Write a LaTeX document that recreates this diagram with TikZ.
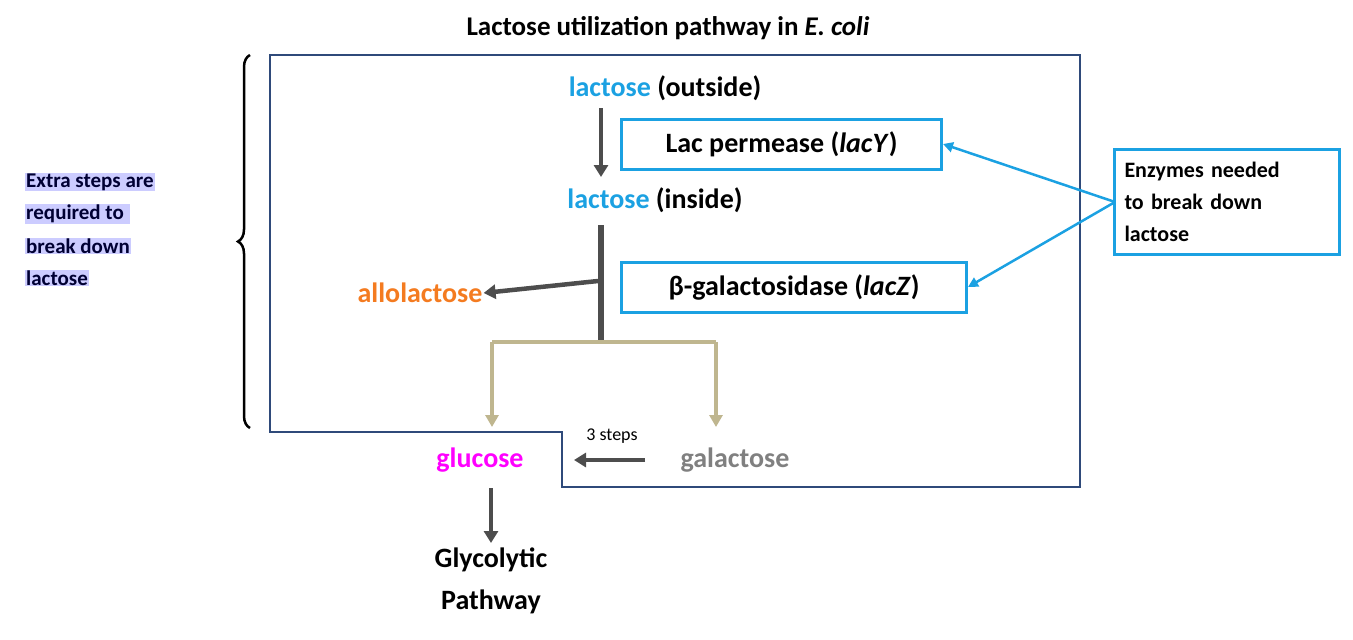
\documentclass[tikz,border=0pt]{standalone}
\usepackage{fontspec}
\setmainfont{Carlito}
\usetikzlibrary{arrows.meta,decorations.pathreplacing}
\definecolor{lblue}{HTML}{1BA1E2}
\definecolor{dgray}{HTML}{4D4D4D}
\definecolor{khaki}{HTML}{BFB68F}
\definecolor{frame}{HTML}{2F4A7A}
\definecolor{lav}{HTML}{CCCCFF}
\definecolor{orng}{HTML}{F47B20}
\definecolor{mag}{HTML}{FF00FF}
\begin{document}
\begin{tikzpicture}[x=1pt,y=-1pt,
  big/.style={font=\fontsize{28}{32}\selectfont\bfseries,inner sep=1pt},
  encl/.style={draw=lblue,line width=3pt,font=\fontsize{28}{32}\selectfont\bfseries,minimum height=50pt,inner sep=5pt,anchor=west,align=center},
  darr/.style={draw=dgray,line width=4.5pt,-{Triangle[length=12pt,width=14pt]}},
  karr/.style={draw=khaki,line width=4pt,-{Triangle[length=12pt,width=13pt]}},
  barr/.style={draw=lblue,line width=2.5pt,-{Triangle[length=10pt,width=10pt]}},
  hl/.style={fill=lav,font=\fontsize{21}{24}\selectfont\bfseries,text=black!80!blue,inner sep=1pt,anchor=west}]
\useasboundingbox (0,0) rectangle (1353,640);
\node[big,font=\fontsize{27}{32}\selectfont\bfseries] (title) at (668,28) {Lactose utilization pathway in \textit{E. coli}};
\draw[frame,line width=1.5pt] (270,55)--(1080,55)--(1080,487)--(562,487)--(562,432)--(270,432)--cycle;
\draw[line width=2.5pt,decorate,decoration={brace,amplitude=12pt}] (250,428)--(250,55);
\node[hl] (h1) at (25,182) {Extra steps are};
\node[hl] (h2) at (25,214) {required to\ \ };
\node[hl] (h3) at (25,246) {break down};
\node[hl] (h4) at (25,278) {lactose};
\node[big] (lout) at (665,88) {\textcolor{lblue}{lactose} (outside)};
\node[big] (lin) at (655,200) {\textcolor{lblue}{lactose} (inside)};
\node[encl,minimum width=320pt] (perm) at (620,144) {Lac permease (\textit{lacY})};
\node[encl,minimum width=345pt] (gal) at (620,287) {β-galactosidase (\textit{lacZ})};
\draw[darr] (601,108)--(601,177);
\coordinate (vt) at (601,225);
\coordinate (vb) at (601,340);
\draw[dgray,line width=6pt] (vt)--(vb);
\node[big,text=orng] (allo) at (420,293) {allolactose};
\draw[darr] (598,281)--(allo.east);
\coordinate (kl) at (492,342);
\coordinate (kr) at (716,342);
\draw[khaki,line width=4pt] (kl)--(kr);
\draw[karr] (kl)--(492,427);
\draw[karr] (kr)--(716,427);
\node[big,text=mag] (glu) at (480,460) {glucose};
\node[big,text=gray] (gala) at (735,460) {galactose};
\draw[darr] (645,460)--(574,460);
\node[font=\fontsize{18}{20}\selectfont] (steps) at (612,436) {3 steps};
\node[big,align=center,font=\fontsize{28}{42}\selectfont\bfseries] (gly) at (491,581) {Glycolytic\\Pathway};
\draw[darr] (491,488)--(491,543);
\node[draw=lblue,line width=2.5pt,minimum width=225pt,minimum height=105pt,align=left,font=\fontsize{22}{32}\selectfont\bfseries,text width=205pt] (enz) at (1227,202) {Enzymes needed\\to break down\\lactose};
\coordinate (ej) at (1115,202);
\draw[barr] (ej)--(perm.east);
\draw[barr] (ej)--(gal.east);
\end{tikzpicture}
\end{document}
